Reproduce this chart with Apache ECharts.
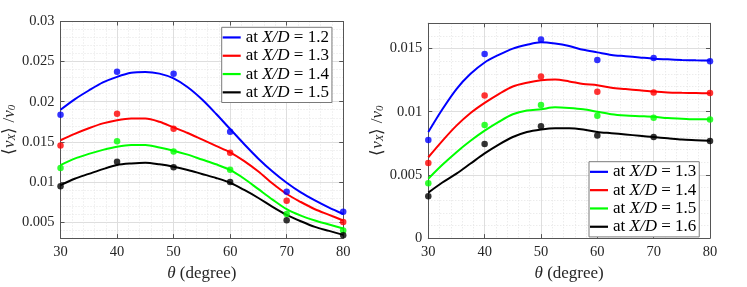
<!DOCTYPE html>
<html><head><meta charset="utf-8">
<script src="https://cdn.jsdelivr.net/npm/echarts@6/dist/echarts.min.js"></script>
<style>html,body{margin:0;padding:0;background:#fff}#c{width:747px;height:287px}</style>
</head><body><div id="c"></div>
<script>
// ---------- data ----------
const thetaPts = [30, 40, 50, 60, 70, 80];
const thetaFit = [30, 32.5, 35, 37.5, 40, 42.5, 45, 47.5, 50, 52.5, 55, 57.5, 60, 62.5, 65, 67.5, 70, 72.5, 75, 77.5, 80];
const xTicks = [30, 40, 50, 60, 70, 80];
const leftYTicks = [0.005, 0.01, 0.015, 0.02, 0.025, 0.03];
const rightYTicks = [0, 0.005, 0.01, 0.015];
const leftLabels = ['1.2', '1.3', '1.4', '1.5'];
const rightLabels = ['1.3', '1.4', '1.5', '1.6'];

// left panel: measured points
const leftPts12 = [0.01837, 0.02374, 0.0235, 0.01627, 0.00877, 0.0063];
const leftPts13 = [0.01454, 0.0185, 0.01664, 0.01363, 0.00766, 0.005];
const leftPts14 = [0.01174, 0.01508, 0.0138, 0.01153, 0.006, 0.00395];
const leftPts15 = [0.00947, 0.01252, 0.01182, 0.01, 0.00522, 0.00337];
// left panel: fitted curves (read every 2.5 degrees)
const leftFit12 = [0.0190, 0.0203, 0.0214, 0.0224, 0.0231, 0.0236, 0.0237, 0.0235, 0.0229, 0.0218, 0.0203, 0.0185, 0.0166, 0.0147, 0.0129, 0.0113, 0.0099, 0.0087, 0.0077, 0.0068, 0.0060];
const leftFit13 = [0.0152, 0.0160, 0.0167, 0.0173, 0.0177, 0.0179, 0.0179, 0.0175, 0.0168, 0.0161, 0.0153, 0.0145, 0.0137, 0.0126, 0.0113, 0.0098, 0.0085, 0.0075, 0.0066, 0.0059, 0.0052];
const leftFit14 = [0.0121, 0.0129, 0.0135, 0.0140, 0.0144, 0.0146, 0.0146, 0.0143, 0.0139, 0.0134, 0.0128, 0.0122, 0.0115, 0.0104, 0.0091, 0.0078, 0.0066, 0.0058, 0.0052, 0.0047, 0.0042];
const leftFit15 = [0.0096, 0.0104, 0.0110, 0.0116, 0.0121, 0.0123, 0.0124, 0.0122, 0.0119, 0.0115, 0.0110, 0.0105, 0.0099, 0.0090, 0.0080, 0.0069, 0.0059, 0.0051, 0.0044, 0.0039, 0.0034];

// right panel: measured points
const rightPts13 = [0.00776, 0.01457, 0.01571, 0.0141, 0.01426, 0.014];
const rightPts14 = [0.00595, 0.01128, 0.01278, 0.01159, 0.01152, 0.01148];
const rightPts15 = [0.00435, 0.00895, 0.01053, 0.00968, 0.00952, 0.00939];
const rightPts16 = [0.00331, 0.00745, 0.00885, 0.00812, 0.008, 0.00768];
// right panel: fitted curves (read every 2.5 degrees)
const rightFit13 = [0.0084, 0.0102, 0.0118, 0.0130, 0.0139, 0.0145, 0.0150, 0.0153, 0.0155, 0.0154, 0.0152, 0.0149, 0.0147, 0.0145, 0.0144, 0.0143, 0.0142, 0.01415, 0.0141, 0.01407, 0.01405];
const rightFit14 = [0.0064, 0.0077, 0.0089, 0.0099, 0.0107, 0.0114, 0.0120, 0.0123, 0.0125, 0.01255, 0.0124, 0.0122, 0.0121, 0.0119, 0.0118, 0.0117, 0.0116, 0.01153, 0.0115, 0.01148, 0.01146];
const rightFit15 = [0.0047, 0.0058, 0.0068, 0.0077, 0.0085, 0.0092, 0.0098, 0.0101, 0.0102, 0.01035, 0.0103, 0.0102, 0.0100, 0.0098, 0.0097, 0.00965, 0.0096, 0.0095, 0.00945, 0.0094, 0.0094];
const rightFit16 = [0.0036, 0.0044, 0.0051, 0.0059, 0.0067, 0.0074, 0.0080, 0.0084, 0.0086, 0.0087, 0.0087, 0.0086, 0.0084, 0.0083, 0.0082, 0.0081, 0.0080, 0.0079, 0.0078, 0.00775, 0.0077];

const colors = ['#0000ff', '#ff0000', '#00ff00', '#000000'];

// ---------- chart ----------
const FONT = 'Liberation Serif';
const AX = '#555555';
const TXT = '#262626';
const MAJ = '#dedede';
const MIN = '#e4e4e4';

function zip(xs, ys) { return xs.map((x, i) => [x, ys[i]]); }
function fmt(v) { return String(+(+v).toFixed(4)); }

function xAxes(gi) {
  return [{
    type: 'value', gridIndex: gi, position: 'bottom', min: 30, max: 80, interval: 10,
    axisLine: { show: true, onZero: false, lineStyle: { color: AX, width: 1 } },
    axisTick: { show: true, inside: true, length: 4, lineStyle: { color: AX } },
    axisLabel: { color: TXT, fontFamily: FONT, fontSize: 14.5, margin: 7 },
    splitLine: { show: true, lineStyle: { color: MAJ, width: 1 } },
    minorTick: { show: false, splitNumber: 5 },
    minorSplitLine: { show: true, lineStyle: { color: MIN, width: 1, type: [1, 2] } },
    name: '{i|θ} (degree)', nameLocation: 'middle', nameGap: 24,
    nameTextStyle: { color: TXT, fontFamily: FONT, fontSize: 17,
      rich: { i: { fontFamily: FONT, fontSize: 17, fontStyle: 'italic', color: TXT } } }
  }, {
    type: 'value', gridIndex: gi, position: 'top', min: 30, max: 80, interval: 10,
    axisLine: { show: true, onZero: false, lineStyle: { color: AX, width: 1 } },
    axisTick: { show: true, inside: true, length: 4, lineStyle: { color: AX } },
    axisLabel: { show: false }, splitLine: { show: false }
  }];
}

function yAxes(gi, min, max, ticks, gap) {
  return [{
    type: 'value', gridIndex: gi, position: 'left', min: min, max: max, interval: 0.001,
    axisLine: { show: false }, axisTick: { show: false }, axisLabel: { show: false },
    splitLine: { show: true, lineStyle: { color: MIN, width: 1, type: [1, 2] } }
  }, {
    type: 'value', gridIndex: gi, position: 'left', min: min, max: max,
    axisLine: { show: true, onZero: false, lineStyle: { color: AX, width: 1 } },
    axisTick: { show: true, inside: true, length: 4, lineStyle: { color: AX }, customValues: ticks },
    axisLabel: { color: TXT, fontFamily: FONT, fontSize: 14.5, margin: 6, customValues: ticks, formatter: fmt },
    splitLine: { show: true, lineStyle: { color: MAJ, width: 1 } },
    name: '⟨{i|v}{s|X}⟩ /{i|v}{s|0}', nameLocation: 'middle', nameGap: gap, nameRotate: 90,
    nameTextStyle: { color: TXT, fontFamily: FONT, fontSize: 17,
      rich: {
        i: { fontFamily: FONT, fontSize: 17, fontStyle: 'italic', color: TXT },
        s: { fontFamily: FONT, fontSize: 11, fontStyle: 'italic', color: TXT, padding: [5, 0, 0, 0] }
      } }
  }, {
    type: 'value', gridIndex: gi, position: 'right', min: min, max: max,
    axisLine: { show: true, onZero: false, lineStyle: { color: AX, width: 1 } },
    axisTick: { show: true, inside: true, length: 4, lineStyle: { color: AX }, customValues: ticks },
    axisLabel: { show: false }, splitLine: { show: false }
  }];
}

const series = [];
const leftFits = [leftFit12, leftFit13, leftFit14, leftFit15];
const leftPts = [leftPts12, leftPts13, leftPts14, leftPts15];
const rightFits = [rightFit13, rightFit14, rightFit15, rightFit16];
const rightPts = [rightPts13, rightPts14, rightPts15, rightPts16];
const nameMap = {};
const leftNames = [], rightNames = [];

function addPanel(fits, pts, labels, xi, yi, names, prefix) {
  fits.forEach((f, k) => {
    const nm = prefix + k;
    nameMap[nm] = 'at {i|X/D} = ' + labels[k];
    names.push(nm);
    series.push({
      type: 'line', name: nm, xAxisIndex: xi, yAxisIndex: yi,
      data: zip(thetaFit, f), smooth: 0.3, showSymbol: false, symbol: 'none',
      lineStyle: { color: colors[k], width: 2 }, itemStyle: { color: colors[k] },
      z: 3, animation: false
    });
    series.push({
      type: 'scatter', name: prefix + 'p' + k, xAxisIndex: xi, yAxisIndex: yi,
      data: zip(thetaPts, pts[k]), symbol: 'circle', symbolSize: 6.5,
      itemStyle: { color: colors[k], borderWidth: 0 },
      z: 4, animation: false
    });
  });
}
addPanel(leftFits, leftPts, leftLabels, 0, 1, leftNames, 'L');
addPanel(rightFits, rightPts, rightLabels, 2, 4, rightNames, 'R');

function legendFor(names, left, top) {
  return {
    data: names, left: left, top: top, orient: 'vertical', itemGap: 0,
    itemWidth: 18, itemHeight: 2.2, icon: 'rect', selectedMode: false,
    padding: [1, 3, 1, 1], borderColor: '#7a7a7a', borderWidth: 1, backgroundColor: '#fff',
    formatter: n => nameMap[n],
    textStyle: { color: '#000', fontFamily: FONT, fontSize: 17, lineHeight: 18.3,
      rich: { i: { fontFamily: FONT, fontSize: 17, fontStyle: 'italic', color: '#000', lineHeight: 18.3 } } },
    z: 10
  };
}

const option = {
  animation: false,
  backgroundColor: '#fff',
  grid: [
    { left: 60.5, top: 21.5, width: 282.7, height: 218.5 },
    { left: 428.3, top: 23.3, width: 281.7, height: 219.4 }
  ],
  xAxis: [...xAxes(0), ...xAxes(1)],
  yAxis: [...yAxes(0, 0.003, 0.03, leftYTicks, 40), ...yAxes(1, 0, 0.017, rightYTicks, 38)],
  legend: [legendFor(leftNames, 221.7, 27.3), legendFor(rightNames, 589, 161.7)],
  series: series
};

const chart = echarts.init(document.getElementById('c'), null, { renderer: 'canvas' });
chart.setOption(option);
</script>
</body></html>
